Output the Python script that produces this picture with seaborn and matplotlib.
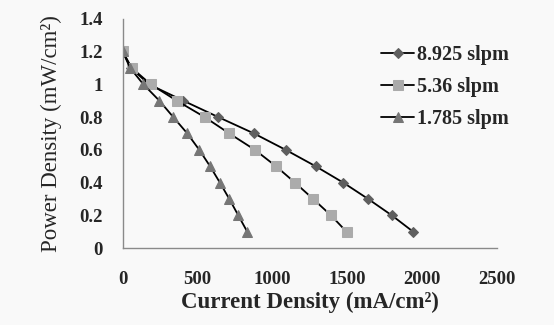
import matplotlib
matplotlib.use("Agg")
import matplotlib.pyplot as plt
import seaborn as sns
import pandas as pd
from matplotlib.ticker import FuncFormatter

# Polarisation data: current density (mA/cm^2) vs power density (mW/cm^2)
power = [1.2, 1.1, 1.0, 0.9, 0.8, 0.7, 0.6, 0.5, 0.4, 0.3, 0.2, 0.1]
current_8925 = [0, 55, 175, 405, 639, 878, 1090, 1290, 1475, 1642, 1800, 1943]
current_536 = [0, 60, 187, 361, 548, 713, 884, 1025, 1152, 1274, 1393, 1497]
current_1785 = [0, 49, 138, 245, 338, 432, 512, 584, 650, 713, 773, 833]

series_labels = ["8.925 slpm", "5.36 slpm", "1.785 slpm"]
x_ticks = [0, 500, 1000, 1500, 2000, 2500]
y_ticks = [0, 0.2, 0.4, 0.6, 0.8, 1.0, 1.2, 1.4]

sns.set_theme(style="white")
plt.rcParams["font.family"] = ["Liberation Serif", "DejaVu Serif"]

bg = "#f9f9f9"
fig = plt.figure(figsize=(5.54, 3.25), dpi=100, facecolor=bg)
ax = fig.add_axes([0.2215, 0.236, 0.6751, 0.7065])
ax.set_facecolor(bg)

styles = [
    dict(marker="D", markersize=4.6, markerfacecolor="#5f5f5f", markeredgecolor="#5f5f5f"),
    dict(marker="s", markersize=7.2, markerfacecolor="#ababab", markeredgecolor="#ababab"),
    dict(marker="^", markersize=7.6, markerfacecolor="#767676", markeredgecolor="#767676"),
]
currents = [current_8925, current_536, current_1785]

for lab, cur, st in zip(series_labels, currents, styles):
    df = pd.DataFrame({"current": cur, "power": power})
    sns.lineplot(data=df, x="current", y="power", sort=False, estimator=None,
                 color="black", linewidth=1.3, label=lab, ax=ax, **st)

ax.set_xlim(0, 2500)
ax.set_ylim(0, 1.4)
ax.set_xticks(x_ticks)
ax.set_yticks(y_ticks)
ax.yaxis.set_major_formatter(FuncFormatter(lambda v, p: f"{v:g}"))

for s in ["top", "right"]:
    ax.spines[s].set_visible(False)
for s in ["left", "bottom"]:
    ax.spines[s].set_color("#8a8a8a")
    ax.spines[s].set_linewidth(1.0)

ax.tick_params(axis="x", direction="out", length=5, width=1, color="#8a8a8a",
               pad=11, labelsize=13.5)
ax.tick_params(axis="y", direction="out", length=5.5, width=1, color="#8a8a8a",
               pad=9, labelsize=13.5)
for t in ax.get_xticklabels() + ax.get_yticklabels():
    t.set_fontweight("bold")

ax.set_xlabel("Current Density (mA/cm²)", fontsize=16.5, fontweight="bold", labelpad=3)
ax.set_ylabel("Power Density (mW/cm²)", fontsize=16.5, fontweight="normal", labelpad=12)

ax.legend_.remove()
handles, labels = ax.get_legend_handles_labels()
leg = fig.legend(handles, labels, loc="upper left", bbox_to_anchor=(371 / 554, 1 - 35 / 325),
                 frameon=False, borderpad=0, handlelength=1.65, handletextpad=0.15,
                 labelspacing=0.6, prop={"family": "Liberation Serif", "weight": "bold", "size": 14.5})

fig.savefig("out.png", dpi=100, facecolor=bg)
